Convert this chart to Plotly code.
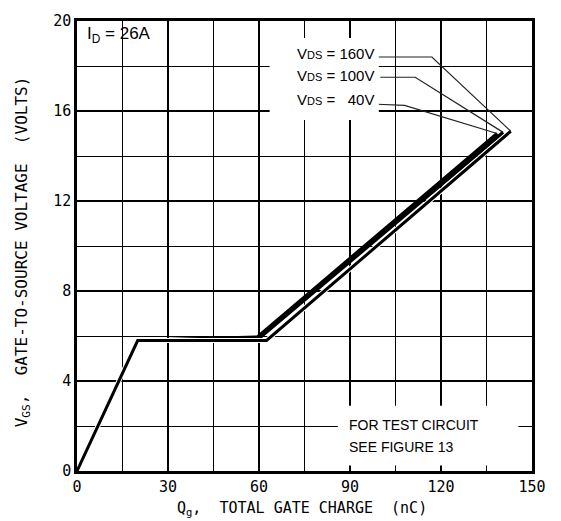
"""Gate charge vs gate-to-source voltage (Plotly)"""

import plotly.graph_objects as go

# curve data: total gate charge (nC) vs V_GS (V)
q_40v = [0, 20, 59.5, 138.5]
v_40v = [0, 5.8, 5.95, 15.0]
q_100v = [0, 20, 60, 140.5]
v_100v = [0, 5.8, 5.9, 15.05]
q_160v = [0, 20, 62.5, 143]
v_160v = [0, 5.8, 5.8, 15.1]

# leader lines from the labels to the curve ends
lead_160_q = [99, 117, 143]
lead_160_v = [18.4, 18.4, 15.1]
lead_100_q = [100, 111.5, 140.5]
lead_100_v = [17.5, 17.5, 15.05]
lead_40_q = [99, 108, 138.5]
lead_40_v = [16.3, 16.25, 15.0]

x_ticks = [0, 30, 60, 90, 120, 150]
y_ticks = [0, 4, 8, 12, 16, 20]

MONO = "DejaVu Sans Mono"
SANS = "Liberation Sans"

fig = go.Figure()

for q, v in [(q_40v, v_40v), (q_100v, v_100v)]:
    fig.add_trace(go.Scatter(x=q, y=v, mode="lines",
                             line=dict(color="black", width=3.5),
                             showlegend=False, hoverinfo="skip"))
# 160V line sits just below the others with a thin white gap
fig.add_trace(go.Scatter(x=q_160v, y=v_160v, mode="lines",
                         line=dict(color="white", width=5),
                         showlegend=False, hoverinfo="skip"))
fig.add_trace(go.Scatter(x=q_160v, y=v_160v, mode="lines",
                         line=dict(color="black", width=3),
                         showlegend=False, hoverinfo="skip"))

# white boxes behind the texts
fig.add_shape(type="rect", x0=63.5, x1=99.5, y0=15.6, y1=19.25,
              fillcolor="white", line=dict(width=0), layer="above")
fig.add_shape(type="rect", x0=86, x1=145.5, y0=0.25, y1=2.9,
              fillcolor="white", line=dict(width=0), layer="above")

for q, v in [(lead_160_q, lead_160_v), (lead_100_q, lead_100_v), (lead_40_q, lead_40_v)]:
    fig.add_trace(go.Scatter(x=q, y=v, mode="lines",
                             line=dict(color="#222222", width=1.2),
                             showlegend=False, hoverinfo="skip"))

labels = ["V<span style='font-size:11px'>DS</span> = 160V",
          "V<span style='font-size:11px'>DS</span> = 100V",
          "V<span style='font-size:11px'>DS</span> =   40V"]
label_y = [18.55, 17.6, 16.5]
for txt, yy in zip(labels, label_y):
    fig.add_annotation(x=98.5, y=yy, text=txt, showarrow=False,
                       xanchor="right", yanchor="middle",
                       font=dict(family=SANS, size=15, color="black"))

fig.add_annotation(x=2.5, y=19.95, text="I<sub>D</sub> = 26A", showarrow=False,
                   xanchor="left", yanchor="top",
                   font=dict(family=SANS, size=17, color="black"))

fig.add_annotation(x=89, y=2.05, text="FOR TEST CIRCUIT", showarrow=False,
                   xanchor="left", yanchor="middle",
                   font=dict(family=SANS, size=14, color="black"))
fig.add_annotation(x=89, y=1.05, text="SEE FIGURE 13", showarrow=False,
                   xanchor="left", yanchor="middle",
                   font=dict(family=SANS, size=14, color="black"))

# axis titles
fig.add_annotation(xref="paper", yref="paper", x=0.495, y=-0.084,
                   text="Q<sub>g</sub>,  TOTAL GATE CHARGE  (nC)", showarrow=False,
                   xanchor="center", yanchor="middle",
                   font=dict(family=MONO, size=15, color="black"))
fig.add_annotation(xref="paper", yref="paper", x=-0.121, y=0.488,
                   text="V<sub>GS</sub>,  GATE-TO-SOURCE VOLTAGE  (VOLTS)", showarrow=False,
                   textangle=-90, xanchor="center", yanchor="middle",
                   font=dict(family=MONO, size=16, color="black"))

fig.update_xaxes(range=[0, 150], tickvals=x_ticks, ticks="",
                 showgrid=True, gridcolor="black", gridwidth=2.2,
                 minor=dict(dtick=15, showgrid=True, gridcolor="black", gridwidth=1.2),
                 showline=True, linecolor="black", linewidth=2.5, mirror=True,
                 zeroline=False, tickfont=dict(family=MONO, size=15, color="black"))
fig.update_yaxes(range=[0, 20], tickvals=y_ticks, ticks="",
                 showgrid=True, gridcolor="black", gridwidth=2.2,
                 minor=dict(dtick=2, showgrid=True, gridcolor="black", gridwidth=1.2),
                 showline=True, linecolor="black", linewidth=2.5, mirror=True,
                 zeroline=False, tickfont=dict(family=MONO, size=15, color="black"))

fig.update_layout(
    width=561, height=521,
    margin=dict(l=77, r=29, t=16, b=50),
    plot_bgcolor="white", paper_bgcolor="white",
)

# drop the browser's default body margin so the figure fills the window
fig.write_html("out.html", config={"displayModeBar": False},
               post_script="document.body.style.margin='0';document.body.style.overflow='hidden';")
